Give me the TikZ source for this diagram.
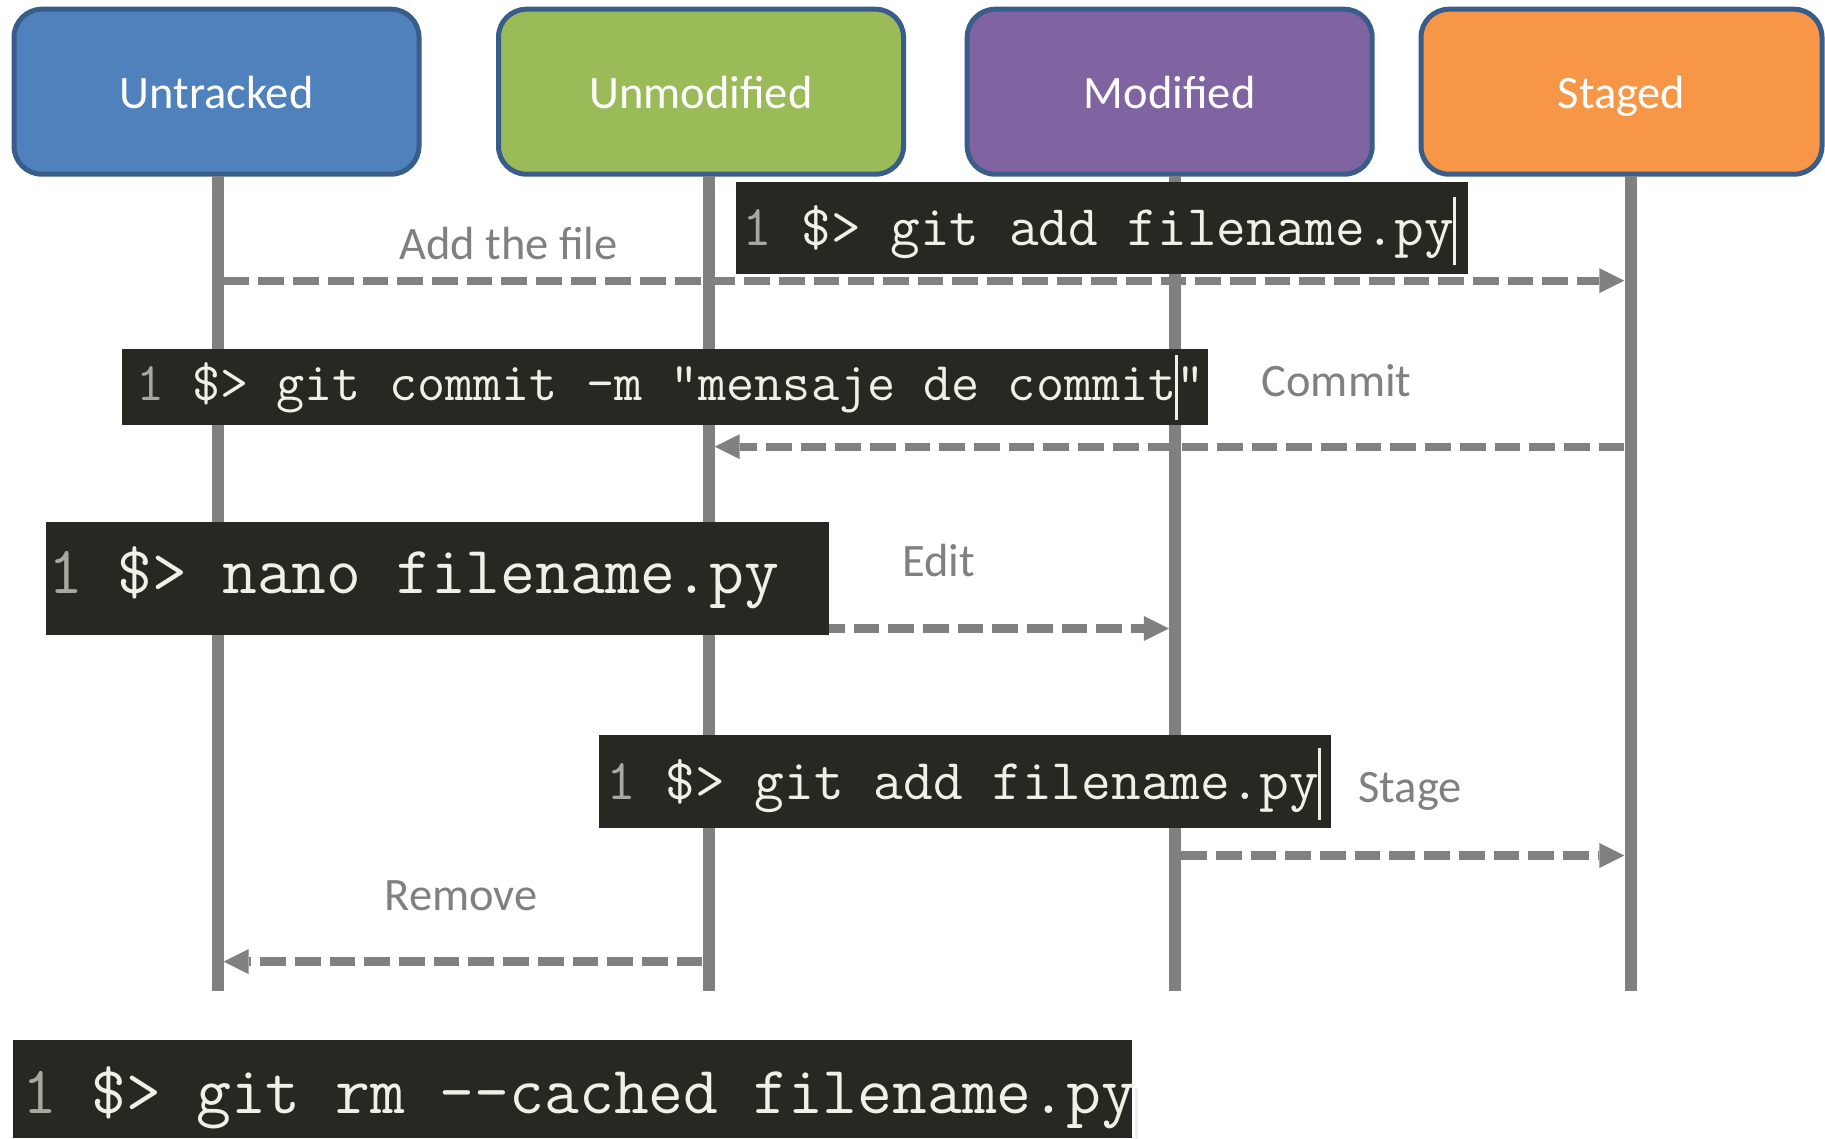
\documentclass[tikz,border=0pt]{standalone}
\usepackage{fontspec}
\setmainfont{Carlito}
\usetikzlibrary{arrows.meta,calc}
\definecolor{ublue}{HTML}{4F81BD}
\definecolor{ugreen}{HTML}{9BBB59}
\definecolor{upurple}{HTML}{8064A2}
\definecolor{uorange}{HTML}{F79646}
\definecolor{bordc}{HTML}{385D8A}
\definecolor{lgray}{HTML}{808080}
\definecolor{codebg}{HTML}{272822}
\definecolor{codefg}{HTML}{F0F0E6}
\definecolor{lnum}{HTML}{A8A8A0}
\newcommand\kursor[2]{\rlap{\hspace{-1.5pt}\textcolor{codefg}{\rule[-#1]{3pt}{#2}}}}
\begin{document}
\begin{tikzpicture}[x=1pt,y=-1pt,
  state/.style={draw=bordc, line width=5pt, rounded corners=28pt, minimum width=405pt, minimum height=165pt, inner sep=0pt},
  titletext/.style={text=white, font=\fontsize{46.5}{56}\selectfont, inner sep=0pt, anchor=base},
  lifeline/.style={fill=lgray, minimum width=12pt, minimum height=815pt, inner sep=0pt, anchor=north},
  msg/.style={draw=lgray, line width=8.3pt, dash pattern=on 25.7pt off 9pt, -{Triangle[length=25pt,width=25pt,line width=0pt]}},
  lbl/.style={text=lgray, font=\fontsize{46.5}{56}\selectfont, inner sep=0pt, anchor=base},
  codebox/.style={fill=codebg, inner sep=0pt, anchor=north west},
  codetxt/.style={text=codefg, inner sep=0pt, anchor=base west},
]
\useasboundingbox (0,0) rectangle (1825,1138);
\fill[white] (0,0) rectangle (1825,1138);

% state boxes
\node[state, fill=ublue] (sU) at (216.5,91.7) {};
\node[state, fill=ugreen] (sUm) at (701,91.7) {};
\node[state, fill=upurple] (sM) at (1169.7,91.7) {};
\node[state, fill=uorange, minimum width=401pt] (sS) at (1621.5,91.7) {};
\node[titletext] (tU) at (216.5,108.3) {Untracked};
\node[titletext] (tUm) at (701,108.3) {Unmodified};
\node[titletext] (tM) at (1169.7,108.3) {Modified};
\node[titletext] (tS) at (1621.5,108.3) {Staged};

% lifelines
\node[lifeline] (lU) at (217.5,176) {};
\node[lifeline] (lUm) at (708.5,176) {};
\node[lifeline] (lM) at (1175,176) {};
\node[lifeline] (lS) at (1630.5,176) {};

% message rows
\coordinate (y1) at (0,280.7);
\coordinate (y2) at (0,446.7);
\coordinate (y3) at (0,628.5);
\coordinate (y4) at (0,855.5);
\coordinate (y5) at (0,961.6);

\draw[msg] (lU.east |- y1) -- (lS.west |- y1);
\draw[msg] (lS.west |- y2) -- (lUm.east |- y2);
\draw[msg] (lUm.east |- y3) -- (lM.west |- y3);
\draw[msg] (lM.east |- y4) -- (lS.west |- y4);
\draw[msg] (lUm.west |- y5) -- (lU.east |- y5);

% labels
\node[lbl] (lbAdd) at (508.4,259.3) {Add the file};
\node[lbl] (lbCommit) at (1336.6,396.7) {Commit};
\node[lbl] (lbEdit) at (938.6,576.7) {Edit};
\node[lbl] (lbStage) at (1410,802) {Stage};
\node[lbl] (lbRemove) at (461,910) {Remove};

% code boxes
\node[codebox, minimum width=731.9pt, minimum height=91.7pt] (c1) at (735.6,181.6) {};
\node[codebox, minimum width=1085.7pt, minimum height=76pt] (c2) at (122,348.3) {};
\node[codebox, minimum width=783.6pt, minimum height=112.6pt] (c3) at (45.4,521.7) {};
\node[codebox, minimum width=732.2pt, minimum height=92.7pt] (c4) at (598.3,735) {};
\node[codebox, minimum width=1119.3pt, minimum height=98pt] (c5) at (12.7,1040) {};

\node[codetxt, font=\fontsize{57.6}{60}\selectfont\ttfamily] (k1) at (742,245)
  {\textcolor{lnum}{1} \$> git add filename.py\kursor{20pt}{68pt}};
\node[codetxt, font=\fontsize{54.6}{58}\selectfont\ttfamily] (k2) at (136,400)
  {\textcolor{lnum}{1} \$> git commit -m "mensaje de commit\kursor{20pt}{65pt}"};
\node[codetxt, font=\fontsize{67.6}{70}\selectfont\ttfamily] (k3) at (48,593.3)
  {\textcolor{lnum}{1} \$> nano filename.py};
\node[codetxt, font=\fontsize{57.7}{60}\selectfont\ttfamily] (k4) at (606,799)
  {\textcolor{lnum}{1} \$> git add filename.py\kursor{21pt}{72pt}};
\node[codetxt, font=\fontsize{67.6}{70}\selectfont\ttfamily] (k5) at (22,1113.3)
  {\textcolor{lnum}{1} \$> git rm {-}{-}cached filename.py\kursor{30pt}{55pt}};
\end{tikzpicture}
\end{document}
